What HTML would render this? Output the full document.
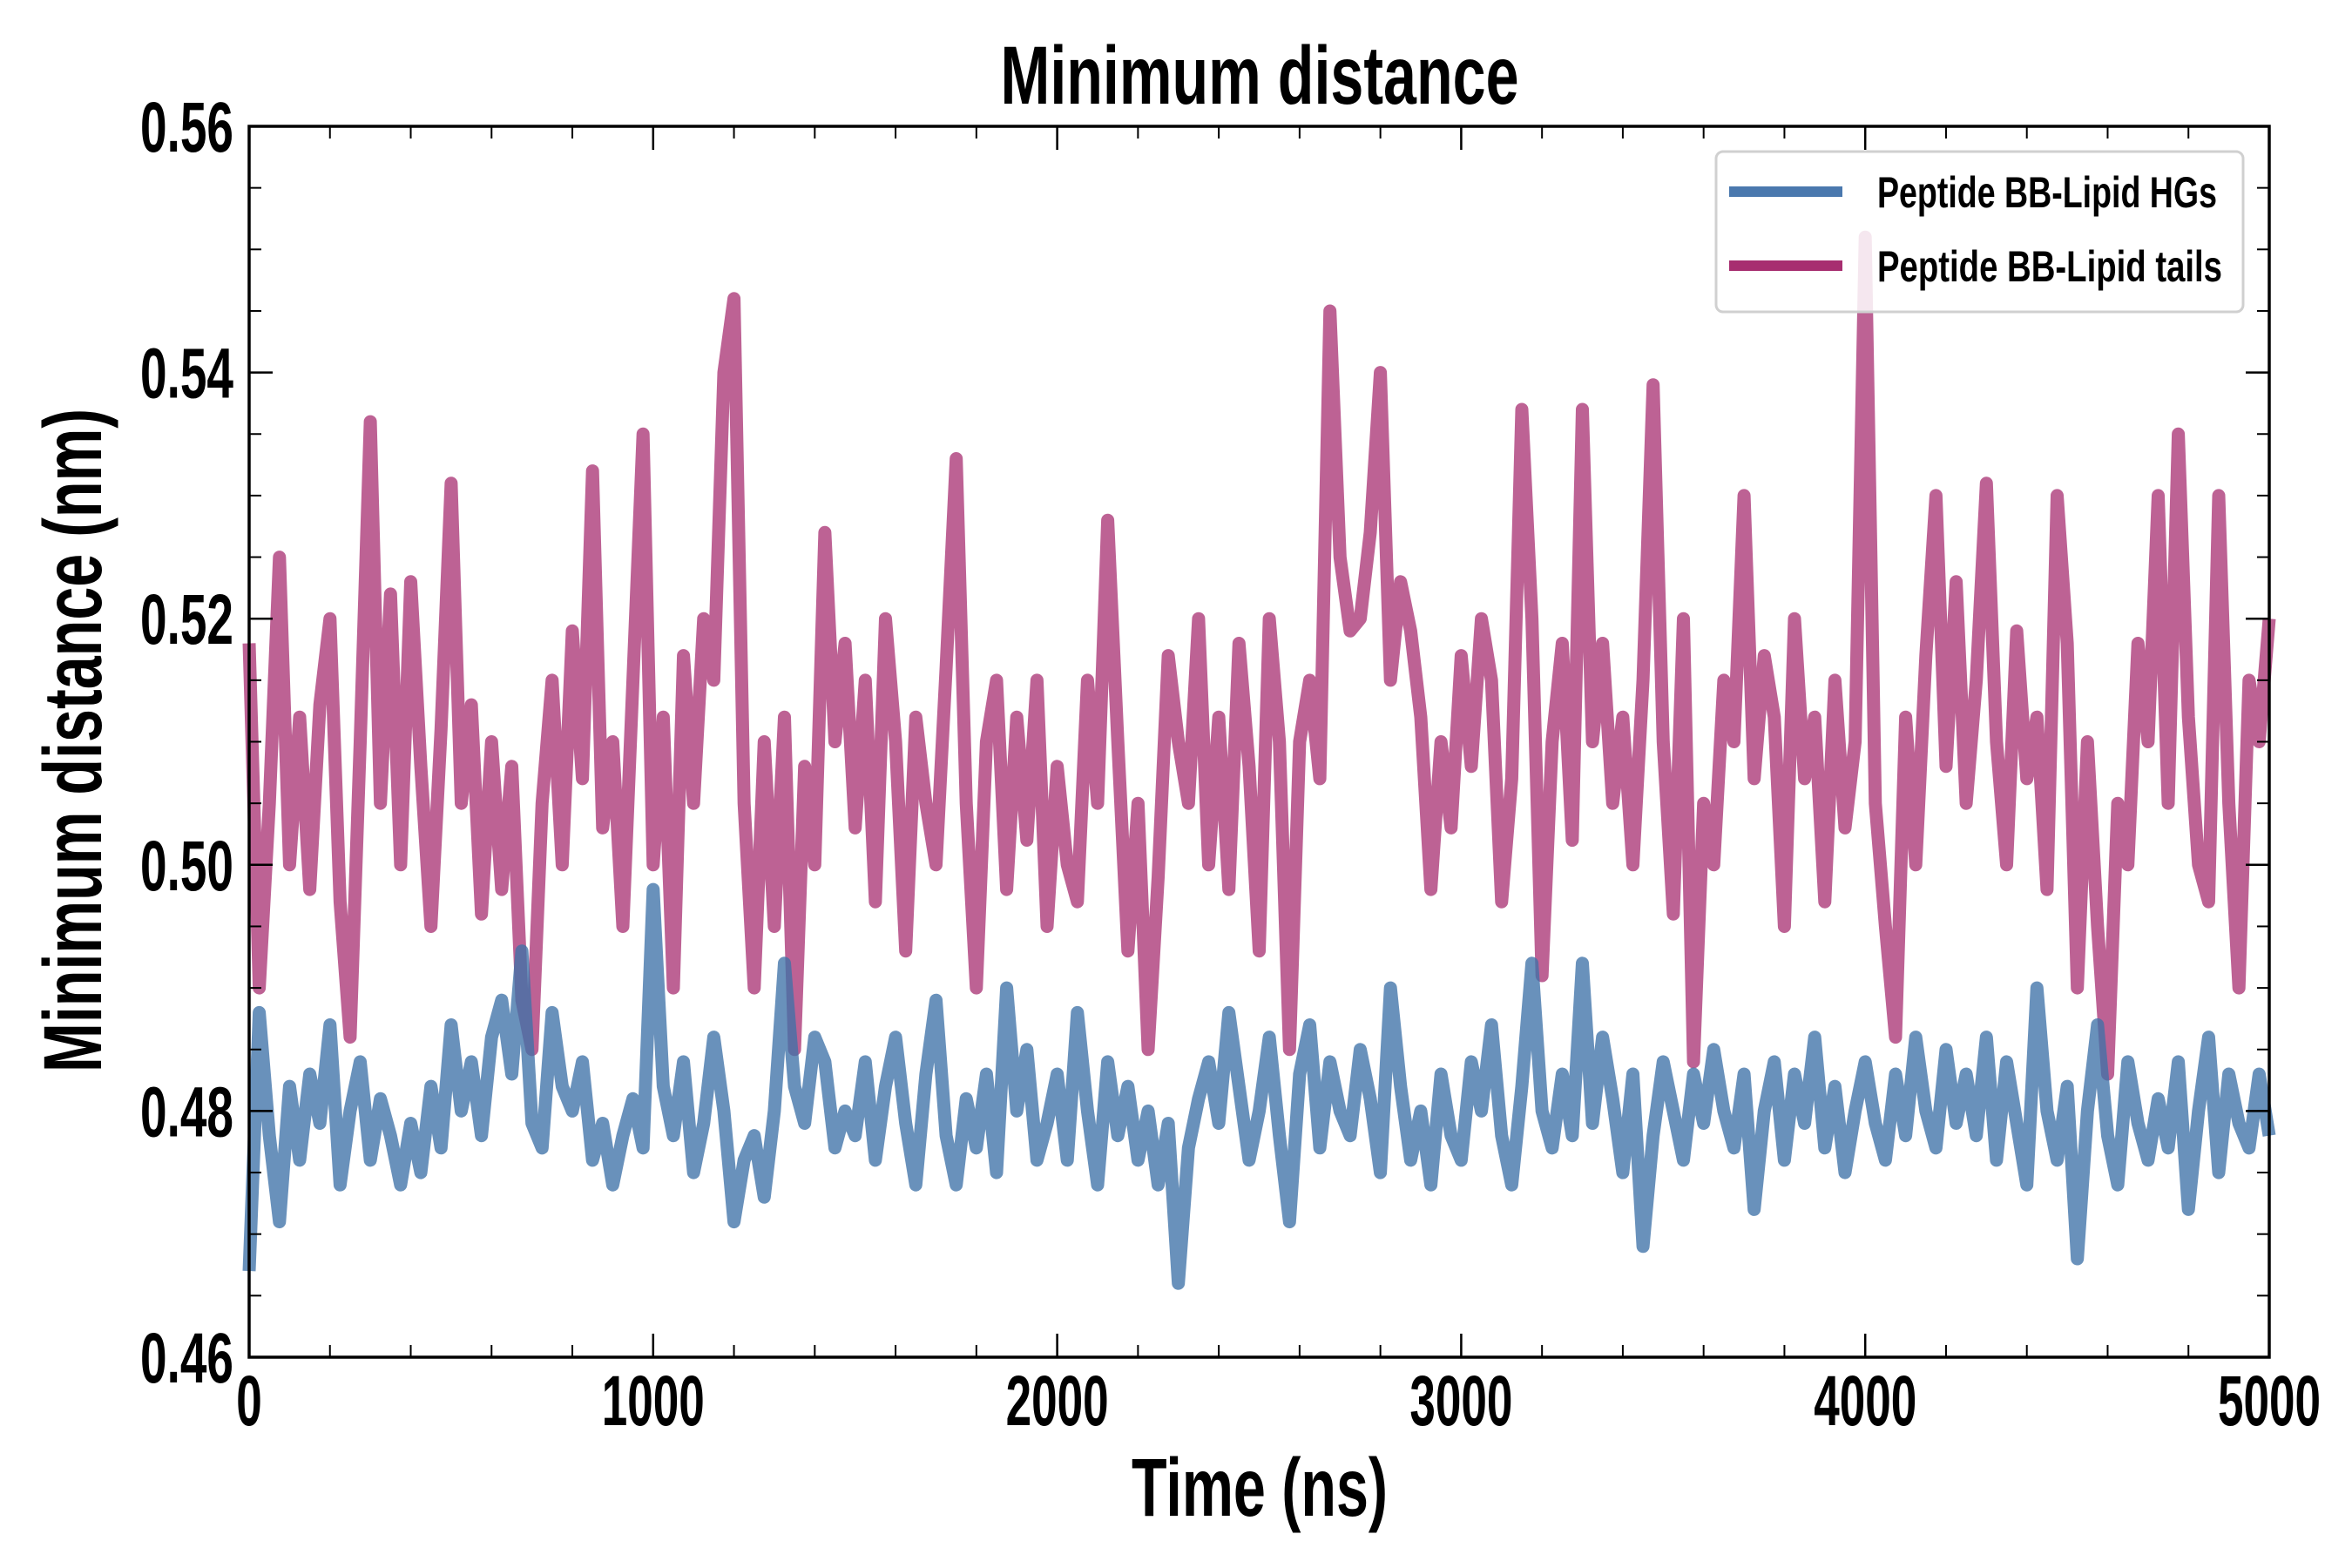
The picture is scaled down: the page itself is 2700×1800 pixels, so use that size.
<!DOCTYPE html>
<html><head><meta charset="utf-8"><style>
html,body{margin:0;padding:0;background:#fff;}
svg{display:block;}
text{font-family:"Liberation Sans Narrow","Liberation Sans",sans-serif;font-weight:bold;fill:#000;}
</style></head><body>
<svg id="chart" width="2700" height="1800" viewBox="0 0 2700 1800" xmlns="http://www.w3.org/2000/svg">
<rect x="0" y="0" width="2700" height="1800" fill="#fff"/>
<g id="series"></g>
<g id="axes"></g>
<text x="1446" y="119" font-size="95" text-anchor="middle" textLength="595" lengthAdjust="spacingAndGlyphs">Minimum distance</text>
<text x="1446" y="1740" font-size="95" text-anchor="middle" textLength="294" lengthAdjust="spacingAndGlyphs">Time (ns)</text>
<text x="0" y="0" font-size="95" text-anchor="middle" textLength="762" lengthAdjust="spacingAndGlyphs" transform="translate(116,850) rotate(-90)">Minimum distance (nm)</text>
<g>
<rect x="1970" y="174" width="605" height="184" rx="8" fill="#fff" fill-opacity="0.85" stroke="#d0d0d0" stroke-width="3"/>
<line x1="1985" y1="220" x2="2115" y2="220" stroke="#4a78ae" stroke-width="12"/>
<text x="2155" y="238" font-size="50" textLength="390" lengthAdjust="spacingAndGlyphs">Peptide BB-Lipid HGs</text>
<line x1="1985" y1="305" x2="2115" y2="305" stroke="#a72e70" stroke-width="12"/>
<text x="2155" y="323" font-size="50" textLength="396" lengthAdjust="spacingAndGlyphs">Peptide BB-Lipid tails</text>
</g>
</svg>
<script>
const timeStart = 0;
const timeStep = 25;
const tailsValues = [
0.518,0.490,0.505,0.525,0.500,0.512,0.498,0.513,0.520,0.497,
0.486,0.510,0.536,0.505,0.522,0.500,0.523,0.508,0.495,0.511,
0.531,0.505,0.513,0.496,0.510,0.498,0.508,0.489,0.485,0.505,
0.515,0.500,0.519,0.507,0.532,0.503,0.510,0.495,0.515,0.535,
0.500,0.512,0.490,0.517,0.505,0.520,0.515,0.540,0.546,0.505,
0.490,0.510,0.495,0.512,0.485,0.508,0.500,0.527,0.510,0.518,
0.503,0.515,0.497,0.520,0.510,0.493,0.512,0.505,0.500,0.516,
0.533,0.505,0.490,0.510,0.515,0.498,0.512,0.502,0.515,0.495,
0.508,0.500,0.497,0.515,0.505,0.528,0.510,0.493,0.505,0.485,
0.499,0.517,0.510,0.505,0.520,0.500,0.512,0.498,0.518,0.508,
0.493,0.520,0.510,0.485,0.510,0.515,0.507,0.545,0.525,0.519,
0.520,0.527,0.540,0.515,0.523,0.519,0.512,0.498,0.510,0.503,
0.517,0.508,0.520,0.515,0.497,0.507,0.537,0.520,0.491,0.510,
0.518,0.502,0.537,0.510,0.518,0.505,0.512,0.500,0.515,0.539,
0.510,0.496,0.520,0.484,0.505,0.500,0.515,0.510,0.530,0.507,
0.517,0.512,0.495,0.520,0.507,0.512,0.497,0.515,0.503,0.510,
0.551,0.505,0.495,0.486,0.512,0.500,0.517,0.530,0.508,0.523,
0.505,0.515,0.531,0.510,0.500,0.519,0.507,0.512,0.498,0.530,
0.518,0.490,0.510,0.495,0.483,0.505,0.500,0.518,0.510,0.530,
0.505,0.535,0.512,0.500,0.497,0.530,0.505,0.490,0.515,0.510,
0.520];
const hgsValues = [
0.467,0.488,0.478,0.471,0.482,0.476,0.483,0.479,0.487,0.474,
0.480,0.484,0.476,0.481,0.478,0.474,0.479,0.475,0.482,0.477,
0.487,0.480,0.484,0.478,0.486,0.489,0.483,0.493,0.479,0.477,
0.488,0.482,0.480,0.484,0.476,0.479,0.474,0.478,0.481,0.477,
0.498,0.482,0.478,0.484,0.475,0.479,0.486,0.480,0.471,0.476,
0.478,0.473,0.480,0.492,0.482,0.479,0.486,0.484,0.477,0.480,
0.478,0.484,0.476,0.482,0.486,0.479,0.474,0.483,0.489,0.478,
0.474,0.481,0.477,0.483,0.475,0.490,0.480,0.485,0.476,0.479,
0.483,0.476,0.488,0.480,0.474,0.484,0.478,0.482,0.476,0.480,
0.474,0.479,0.466,0.477,0.481,0.484,0.479,0.488,0.482,0.476,
0.480,0.486,0.478,0.471,0.483,0.487,0.477,0.484,0.480,0.478,
0.485,0.481,0.475,0.490,0.482,0.476,0.480,0.474,0.483,0.478,
0.476,0.484,0.480,0.487,0.478,0.474,0.482,0.492,0.480,0.477,
0.483,0.478,0.492,0.479,0.486,0.481,0.475,0.483,0.469,0.478,
0.484,0.480,0.476,0.483,0.479,0.485,0.480,0.477,0.483,0.472,
0.480,0.484,0.476,0.483,0.479,0.486,0.477,0.482,0.475,0.480,
0.484,0.479,0.476,0.483,0.478,0.486,0.480,0.477,0.485,0.479,
0.483,0.478,0.486,0.476,0.484,0.479,0.474,0.490,0.480,0.476,
0.482,0.468,0.480,0.487,0.478,0.474,0.484,0.479,0.476,0.481,
0.477,0.484,0.472,0.480,0.486,0.475,0.483,0.479,0.477,0.483,
0.478];
const xTickValues = [0,1000,2000,3000,4000,5000];
const xTickLabels = ["0","1000","2000","3000","4000","5000"];
const yTickValues = [0.46,0.48,0.50,0.52,0.54,0.56];
const yTickLabels = ["0.46","0.48","0.50","0.52","0.54","0.56"];

const NS = "http://www.w3.org/2000/svg";
const X0 = 286, X1 = 2605, Y0 = 1558, Y1 = 145;
const xMin = 0, xMax = 5000, yMin = 0.46, yMax = 0.56;
function xs(v){ return X0 + (v - xMin) / (xMax - xMin) * (X1 - X0); }
function ys(v){ return Y0 - (v - yMin) / (yMax - yMin) * (Y0 - Y1); }

const seriesG = document.getElementById('series');
const axesG = document.getElementById('axes');

function drawSeries(vals, color, opacity, name){
  const pts = vals.map((v,i) => xs(timeStart + i*timeStep).toFixed(1) + ',' + ys(v).toFixed(1)).join(' ');
  const pl = document.createElementNS(NS, 'polyline');
  pl.setAttribute('points', pts);
  pl.setAttribute('fill', 'none');
  pl.setAttribute('stroke', color);
  pl.setAttribute('stroke-opacity', opacity);
  pl.setAttribute('stroke-width', '15');
  pl.setAttribute('stroke-linejoin', 'round');
  
  
  seriesG.appendChild(pl);
}
drawSeries(tailsValues, '#a72e70', '0.75', 'series-lipid-tails-line');
drawSeries(hgsValues, '#3f72a8', '0.78', 'series-lipid-hgs-line');

function line(x1,y1,x2,y2,w,name){
  const l = document.createElementNS(NS,'line');
  l.setAttribute('x1',x1); l.setAttribute('y1',y1);
  l.setAttribute('x2',x2); l.setAttribute('y2',y2);
  l.setAttribute('stroke','#000'); l.setAttribute('stroke-width',w);
  
  
  axesG.appendChild(l);
}
for (let t = 0; t <= 5000; t += 200) {
  const x = xs(t);
  line(x, Y0, x, Y0-14, 2, 'x-minor-tick');
  line(x, Y1, x, Y1+14, 2, 'x-minor-tick-top');
}
for (let k = 0; k <= 20; k++) {
  const y = ys(yMin + k*0.005);
  line(X0, y, X0+14, y, 2, 'y-minor-tick');
  line(X1, y, X1-14, y, 2, 'y-minor-tick-right');
}
xTickValues.forEach((v,i) => {
  const x = xs(v);
  line(x, Y0, x, Y0-27, 2.5, 'x-major-tick');
  line(x, Y1, x, Y1+27, 2.5, 'x-major-tick-top');
  const t = document.createElementNS(NS,'text');
  t.setAttribute('x', x); t.setAttribute('y', 1636);
  t.setAttribute('font-size', '82');
  t.setAttribute('text-anchor', 'middle');
  t.setAttribute('textLength', xTickLabels[i].length * 29.5);
  t.setAttribute('lengthAdjust', 'spacingAndGlyphs');
  t.textContent = xTickLabels[i];
  
  
  axesG.appendChild(t);
});
yTickValues.forEach((v,i) => {
  const y = ys(v);
  line(X0, y, X0+27, y, 2.5, 'y-major-tick');
  line(X1, y, X1-27, y, 2.5, 'y-major-tick-right');
  const t = document.createElementNS(NS,'text');
  t.setAttribute('x', 268); t.setAttribute('y', y + 29);
  t.setAttribute('font-size', '82');
  t.setAttribute('text-anchor', 'end');
  t.setAttribute('textLength', '107');
  t.setAttribute('lengthAdjust', 'spacingAndGlyphs');
  t.textContent = yTickLabels[i];
  
  
  axesG.appendChild(t);
});
const fr = document.createElementNS(NS,'rect');
fr.setAttribute('x', X0); fr.setAttribute('y', Y1);
fr.setAttribute('width', X1-X0); fr.setAttribute('height', Y0-Y1);
fr.setAttribute('fill','none'); fr.setAttribute('stroke','#000'); fr.setAttribute('stroke-width','3.5');


axesG.appendChild(fr);
</script>
</body></html>
